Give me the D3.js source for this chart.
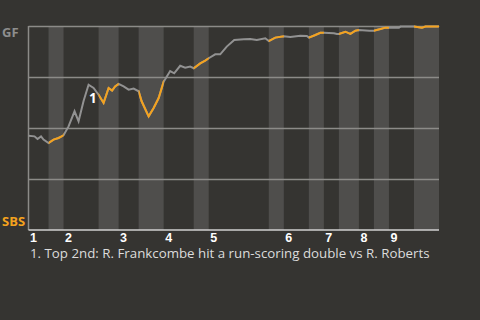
<!DOCTYPE html>
<head>
<meta charset="utf-8">
<script src="https://d3js.org/d3.v7.min.js"></script>
<style>
    body { margin: 0; background: #353431; }
    svg { display: block; font-family: "Open Sans", "DejaVu Sans", sans-serif; }
    .band { fill: #4f4e4c; }
    .grid line { stroke: #8c8b88; stroke-width: 1.5; }
    .grid path { display: none; }
    .axis--x path { stroke: #d0d0d0; stroke-width: 1.5; }
    .axis--x text { fill: #fff; font-weight: bold; font-size: 12.5px; }
    .wp { fill: none; stroke-width: 2; stroke-linejoin: miter; }
</style>
</head>
<body>
<script>
// game progress in plate-appearance units; bottom halves start at botStarts
var innings = ["1", "2", "3", "4", "5", "6", "7", "8", "9"];
var topStarts = [0, 7, 18, 27, 36, 51, 59, 66, 72];
var botStarts = [4, 14, 22, 33, 48, 56, 62, 69, 77];
var gameEnd = 82;

// GF win probability after each event
var events = [0, 1.2, 1.8, 2.5, 3, 4, 5, 6, 7, 8, 9.2, 10, 11, 12, 13, 14, 15, 16, 16.7, 17.3, 18,
    19, 20, 21, 22, 22.6, 24, 25, 26, 27, 28.3, 29.1, 30.3, 31.3, 32.3, 33, 34.3, 35.3, 36,
    37.3, 38.3, 39.6, 41.1, 43, 44.3, 45.6, 47.3, 48, 49.3, 51, 52.3, 54.3, 55.6, 56, 57.3,
    58.3, 59, 61, 61.6, 62, 63.3, 64.3, 65.3, 66, 68.1, 69, 70.3, 71.3, 72, 74, 74.3, 77,
    78.6, 79.3, 81.8, 82];
var winProb = [0.462, 0.459, 0.446, 0.459, 0.443, 0.426, 0.443, 0.451, 0.464, 0.508, 0.582, 0.533,
    0.632, 0.712, 0.696, 0.663, 0.623, 0.696, 0.683, 0.704, 0.716,
    0.704, 0.688, 0.693, 0.680, 0.631, 0.557, 0.598, 0.647, 0.727, 0.779, 0.768, 0.805, 0.796,
    0.801, 0.793, 0.817, 0.830, 0.842,
    0.861, 0.861, 0.899, 0.931, 0.935, 0.936, 0.931, 0.940, 0.926, 0.943, 0.950, 0.946, 0.952,
    0.951, 0.943, 0.956,
    0.967, 0.967, 0.964, 0.961, 0.961, 0.972, 0.961, 0.977, 0.980, 0.977, 0.977, 0.985, 0.992,
    0.992, 0.992, 0.997, 0.997,
    0.992, 0.997, 0.997, 1.0];

var homeTeam = "SBS", awayTeam = "GF";
var notes = [{ num: "1", at: 12, text: "1. Top 2nd: R. Frankcombe hit a run-scoring double vs R. Roberts" }];

var margin = { top: 26, right: 41, bottom: 90, left: 28.5 };
var width = 480 - margin.left - margin.right;
var height = 320 - margin.top - margin.bottom;

var svg = d3.select("body").append("svg")
    .attr("width", 480)
    .attr("height", 320);

var g = svg.append("g")
    .attr("transform", "translate(" + margin.left + "," + margin.top + ")");

var x = d3.scaleLinear().domain([0, gameEnd]).range([0, width]);
var y = d3.scaleLinear().domain([0, 1]).range([height, 0]);

var data = events.map(function(e, i) { return { e: e, p: winProb[i] }; });

// bottom halves shaded
var halves = botStarts.map(function(b, i) {
    return { x0: b, x1: i < topStarts.length - 1 ? topStarts[i + 1] : gameEnd };
});

g.selectAll(".band")
    .data(halves)
    .enter().append("rect")
    .attr("class", "band")
    .attr("x", function(d) { return x(d.x0); })
    .attr("width", function(d) { return x(d.x1) - x(d.x0); })
    .attr("y", 0)
    .attr("height", height);

g.append("clipPath").attr("id", "bot")
    .selectAll("rect")
    .data(halves)
    .enter().append("rect")
    .attr("x", function(d) { return x(d.x0); })
    .attr("width", function(d) { return x(d.x1) - x(d.x0); })
    .attr("y", -10)
    .attr("height", height + 20);

g.append("g")
    .attr("class", "grid")
    .call(d3.axisLeft(y).tickValues([0.25, 0.5, 0.75, 1]).tickSize(-width).tickFormat(""));

g.append("line")
    .attr("x1", 0).attr("x2", 0)
    .attr("y1", 0).attr("y2", height)
    .style("stroke", "#8c8b88")
    .style("stroke-width", 1.5);

var line = d3.line()
    .x(function(d) { return x(d.e); })
    .y(function(d) { return y(d.p); });

g.append("path")
    .datum(data)
    .attr("class", "wp")
    .style("stroke", "#929292")
    .attr("d", line);

g.append("path")
    .datum(data)
    .attr("class", "wp")
    .attr("clip-path", "url(#bot)")
    .style("stroke", "#f4a21e")
    .attr("d", line);

var xAxis = g.append("g")
    .attr("class", "axis--x")
    .attr("transform", "translate(0," + height + ")")
    .call(d3.axisBottom(x)
        .tickValues(topStarts)
        .tickFormat(function(d, i) { return innings[i]; })
        .tickSize(0)
        .tickPadding(3));
xAxis.selectAll("text").attr("text-anchor", "start").attr("dx", 1);
xAxis.select(".domain").attr("d", "M0,0H" + width);

// team labels
svg.append("text")
    .attr("x", 2)
    .attr("y", margin.top + y(1) + 11)
    .style("fill", "#8e8e8e")
    .style("font-weight", "bold")
    .style("font-size", "13px")
    .text(awayTeam);

svg.append("text")
    .attr("x", 2)
    .attr("y", margin.top + y(0) - 4)
    .style("fill", "#f4a21e")
    .style("font-weight", "bold")
    .style("font-size", "13px")
    .text(homeTeam);

// notes
notes.forEach(function(n, i) {
    var p = data.filter(function(d) { return d.e === n.at; })[0];
    g.append("text")
        .attr("x", x(p.e) + 0.5)
        .attr("y", y(p.p) + 18)
        .style("fill", "#fff")
        .style("font-weight", "bold")
        .style("font-size", "13.5px")
        .text(n.num);
    svg.append("text")
        .attr("x", 30)
        .attr("y", margin.top + height + 28 + i * 16)
        .style("fill", "#dcdcdc")
        .style("font-size", "13.3px")
        .text(n.text);
});
</script>
</body>
